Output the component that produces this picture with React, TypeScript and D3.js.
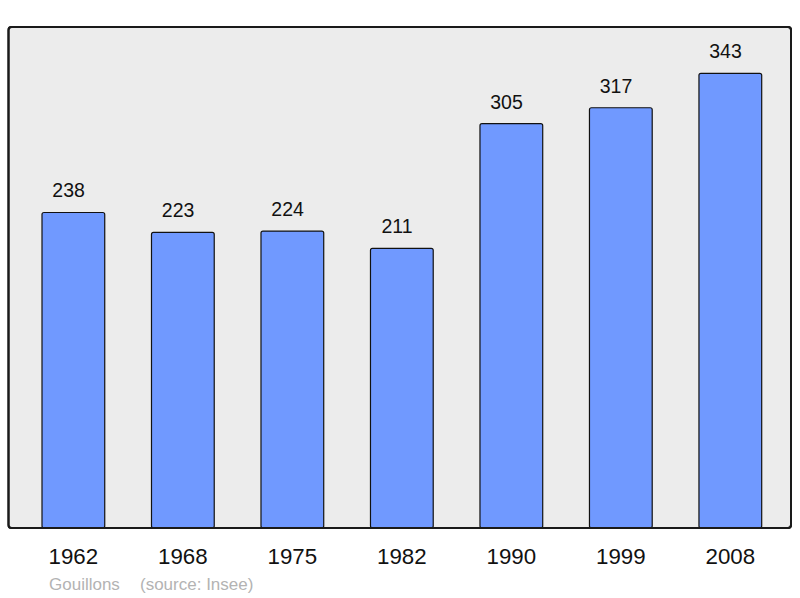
import React from "react";
import * as d3 from "d3";

const years = ["1962", "1968", "1975", "1982", "1990", "1999", "2008"];
const population = [238, 223, 224, 211, 305, 317, 343];
const townName = "Gouillons";
const sourceText = "(source: Insee)";

export default function App() {
  const W = 800, H = 598;
  const frame = { x: 8.5, y: 27, w: 782.5, h: 501 };
  const x = d3.scaleBand<string>().domain(years).range([42, 761.7]).paddingInner(0.427).paddingOuter(0);
  const y = d3.scaleLinear().domain([0, 343]).range([528, 73.3]);
  const font = "'Liberation Sans', Arial, sans-serif";
  return (
    <svg width={W} height={H} style={{ position: "absolute", left: 0, top: 0 }} fontFamily={font}>
      <rect x={frame.x} y={frame.y} width={frame.w} height={frame.h} rx={3} fill="#ececec" stroke="#1a1a1a" strokeWidth={2} />
      {population.map((v, i) => {
        const yr = years[i];
        const bx = x(yr)!;
        return (
          <g key={yr}>
            <rect x={bx} y={y(v)} width={x.bandwidth()} height={y(0) - y(v)} rx={2} fill="#7099ff" stroke="#111" strokeWidth={1.2} />
            <text x={bx + x.bandwidth() / 2 - 4.8} y={y(v) - 15} textAnchor="middle" fontSize={19.5} fill="#111">{v}</text>
            <text x={bx + x.bandwidth() / 2} y={564} textAnchor="middle" fontSize={22.3} fill="#111">{yr}</text>
          </g>
        );
      })}
      <rect x={frame.x} y={frame.y} width={frame.w} height={frame.h} rx={3} fill="none" stroke="#1a1a1a" strokeWidth={2} />
      <text x={49} y={590} fontSize={17} fill="#b3b3b3">{townName}</text>
      <text x={140} y={590} fontSize={17} fill="#b3b3b3">{sourceText}</text>
    </svg>
  );
}
